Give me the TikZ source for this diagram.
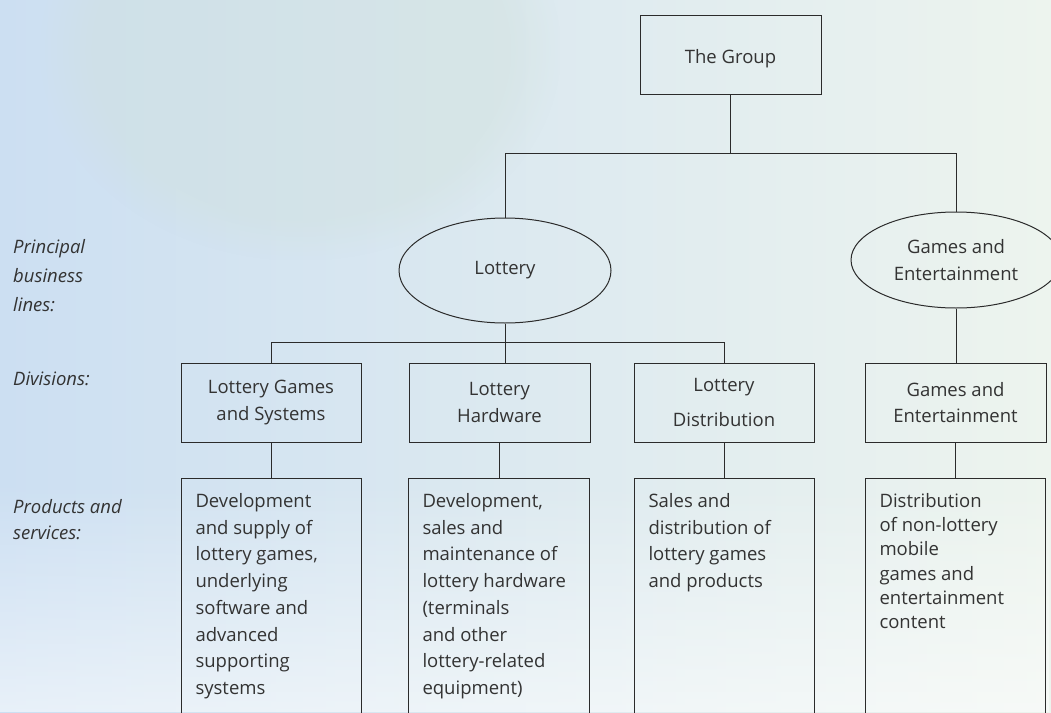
\documentclass[tikz,border=0pt]{standalone}
\usepackage{fontspec}
\setmainfont{Open Sans}
\usepackage{xcolor}
\usepackage{tikz}
\usetikzlibrary{shapes.geometric,fadings}

\definecolor{linec}{HTML}{2B2B2B}
\definecolor{textc}{HTML}{333333}
\definecolor{bgleft}{HTML}{CCDFF2}
\definecolor{bgmid}{HTML}{D6EAF2}
\definecolor{bgright}{HTML}{EDF4EE}
\definecolor{bgpatch}{HTML}{CFE0D8}

\newcommand{\chartfont}{\fontsize{18.5}{26.7}\selectfont}

\tikzset{
  orgbox/.style={draw=linec, line width=1pt, text=textc, minimum width=180pt,
    minimum height=79pt, inner sep=0pt, align=center, font=\chartfont},
  orgoval/.style={ellipse, draw=linec, line width=1pt, text=textc,
    inner sep=0pt, align=center, font=\chartfont},
  prodbox/.style={draw=linec, line width=1pt, text=textc, anchor=north west,
    inner xsep=14pt, inner ysep=14pt, text height=15pt, minimum width=180pt,
    font=\chartfont},
  rowlabel/.style={anchor=base west, inner sep=0pt, text=textc,
    font=\chartfont\itshape},
  tree/.style={draw=linec, line width=1pt}
}

\begin{document}
\begin{tikzpicture}[x=1pt,y=-1pt]
  % Background
  \useasboundingbox (0,0) rectangle (1051,712);
  \clip (0,0) rectangle (1051,712);
  \shade[left color=bgleft, middle color=bgmid, right color=bgright] (0,0) rectangle (1051,712);
  \fill[bgpatch, opacity=0.35, path fading=circle with fuzzy edge 20 percent] (40,-160) rectangle (560,260);
  \fill[white, opacity=0.55, path fading=north] (0,480) rectangle (1051,712);
  % Row labels
  \node[rowlabel] (lblines) at (13,253) {\parbox[t]{140pt}{\fontsize{18.5}{29}\selectfont Principal\\business\\lines:}};
  \node[rowlabel] (lbldiv) at (13,385) {Divisions:};
  \node[rowlabel] (lblprod) at (13,513) {\parbox[t]{140pt}{Products and\\services:}};
  % Top level
  \node[orgbox, minimum width=181pt, text height=17pt, text depth=0pt] (group) at (730.5,54.5) {The Group};
  % Business lines
  \node[orgoval, minimum width=212pt, minimum height=105pt] (lot) at (505,270.5) {Lottery};
  \node[orgoval, minimum width=210pt, minimum height=96pt] (ge) at (956,260) {Games and\\Entertainment};
  \draw[tree] (group.south) -- ++(0,59) coordinate (gbus);
  \draw[tree] (lot.north) |- (gbus) -| (ge.north);
  % Divisions
  \node[orgbox] (lgs) at (271,402.5) {Lottery Games\\and Systems};
  \node[orgbox, minimum width=181pt] (lhw) at (499.5,402.5) {Lottery\\Hardware};
  \node[orgbox] (ldist) at (724,402.5) {Lottery\\[8pt]Distribution};
  \node[orgbox, minimum width=181pt] (gediv) at (955.5,402.5) {Games and\\Entertainment};
  \draw[tree] (lot.south) -- (lot.south |- lhw.north);
  \draw[tree] (lgs.north) -- ++(0,-20) -| (ldist.north);
  \draw[tree] (ge.south) -- (ge.south |- gediv.north);
  % Products and services
  \node[prodbox] (plgs) at (181,478) {\parbox[t][260pt][t]{152pt}{\raggedright
    Development\\and supply of\\lottery games,\\underlying\\software and\\advanced\\supporting\\systems}};
  \node[prodbox, minimum width=181pt] (plhw) at (408,478) {\parbox[t][260pt][t]{153pt}{\raggedright
    Development,\\sales and\\maintenance of\\lottery hardware\\(terminals\\and other\\lottery-related\\equipment)}};
  \node[prodbox] (pldist) at (634,478) {\parbox[t][260pt][t]{152pt}{\raggedright
    Sales and\\distribution of\\lottery games\\and products}};
  \node[prodbox] (pge) at (865,478) {\parbox[t][260pt][t]{152pt}{\raggedright\fontsize{18.5}{24.2}\selectfont
    Distribution\\of non-lottery\\mobile\\games and\\entertainment\\content}};
  \draw[tree] (lgs.south) -- (lgs.south |- plgs.north);
  \draw[tree] (lhw.south) -- (lhw.south |- plhw.north);
  \draw[tree] (ldist.south) -- (ldist.south |- pldist.north);
  \draw[tree] (gediv.south) -- (gediv.south |- pge.north);
\end{tikzpicture}
\end{document}
